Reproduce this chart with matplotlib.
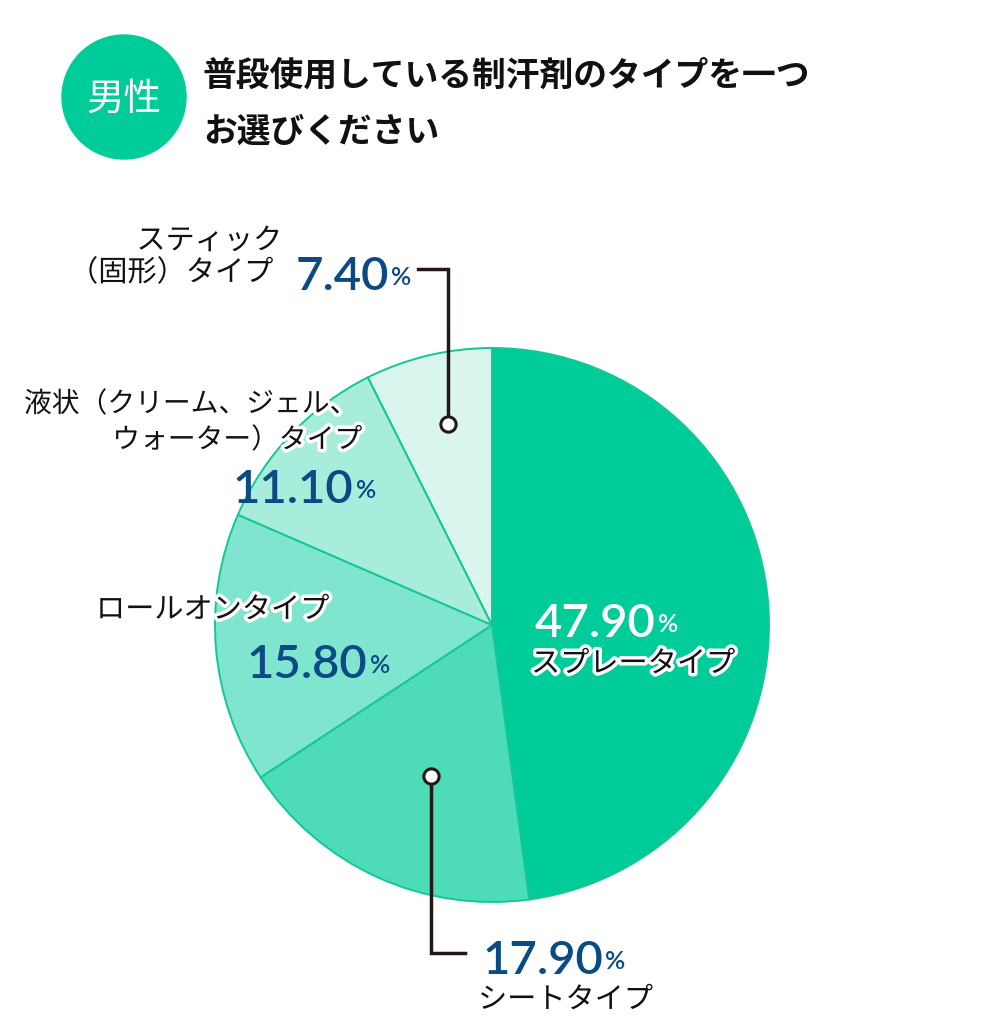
import matplotlib
matplotlib.use("Agg")
import matplotlib.pyplot as plt
import matplotlib.patheffects as pe
from matplotlib.patches import Circle

plt.rcParams['font.family'] = ['Noto Sans CJK JP', 'DejaVu Sans']

# ---- data ----
categories = ["スプレータイプ", "シートタイプ", "ロールオンタイプ",
              "液状（クリーム、ジェル、\nウォーター）タイプ", "スティック\n（固形）タイプ"]
values = [47.9, 17.9, 15.8, 11.1, 7.4]
value_labels = ["47.90", "17.90", "15.80", "11.10", "7.40"]
colors = ["#00CC99", "#4DDBB8", "#80E5CE", "#A8EDDC", "#DAF5EE"]
badge = "男性"
title_lines = ["普段使用している制汗剤のタイプを一つ", "お選びください"]

W, H = 1000, 1032
fig = plt.figure(figsize=(W / 100, H / 100), dpi=100)
ax = fig.add_axes([0, 0, 1, 1])

CX, CY, R = 492, 625, 277
ax.pie(values, colors=colors, startangle=-90, counterclock=True,
       center=(CX, CY), radius=R,
       wedgeprops=dict(edgecolor="#14C795", linewidth=1.4))
ax.set_xlim(0, W)
ax.set_ylim(H, 0)
ax.set_aspect('equal')
ax.axis('off')

jp = ['Noto Sans CJK JP', 'DejaVu Sans']
num_font = ['Lato', 'DejaVu Sans']
blue = "#0B4A84"
halo = [pe.withStroke(linewidth=5, foreground='white')]

# header badge
ax.add_patch(Circle((124, 97), 62, color="#00CC99", zorder=5))
ax.text(124, 99, badge, color='white', fontsize=27, family=jp,
        ha='center', va='center', zorder=6)
ax.text(203, 75, title_lines[0], fontsize=24.3, fontweight='bold', family=jp,
        ha='left', va='center', color='#111111')
ax.text(203, 131, title_lines[1], fontsize=24.3, fontweight='bold', family=jp,
        ha='left', va='center', color='#111111')


def number(x, y, s, color, ha='left'):
    t = ax.text(x, y, s, fontsize=34, family=num_font, fontweight='semibold',
                color=color, ha=ha, va='baseline', zorder=8)
    ax.annotate('%', xy=(1, 0), xycoords=t, xytext=(1.5, 6.5),
                textcoords='offset points', fontsize=18, family=num_font,
                fontweight='semibold', color=color, ha='left', va='bottom',
                zorder=8)
    return t


def label(x, y, s, ha='left', color='#111111', fx=halo, size=21):
    ax.text(x, y, s, fontsize=size, family=jp, color=color, ha=ha, va='center',
            path_effects=fx, zorder=9)

# spray
number(535, 637, value_labels[0], 'white')
label(531, 664, "スプレータイプ")

# sheet
ax.plot([431, 431, 465], [776, 953, 953], color='#231815', lw=2.5,
        solid_joinstyle='miter', zorder=7)
ax.plot([431], [776], marker='o', ms=11, mfc='white', mec='#231815',
        mew=2.2, zorder=8)
number(482, 974, value_labels[1], blue)
label(478, 1000, "シートタイプ")

# roll-on
label(96, 610, "ロールオンタイプ")
number(247, 678, value_labels[2], blue)

# liquid
label(357, 404, "液状（クリーム、ジェル、", ha='right', size=20)
label(362, 440, "ウォーター）タイプ", ha='right', size=20)
number(233, 503, value_labels[3], blue)

# stick
label(282, 241, "スティック", ha='right')
label(273, 273, "（固形）タイプ", ha='right')
number(296, 290, value_labels[4], blue)
ax.plot([418, 448, 448], [269, 269, 424], color='#231815', lw=2.5,
        solid_joinstyle='miter', zorder=7)
ax.plot([448], [424], marker='o', ms=11, mfc='white', mec='#231815',
        mew=2.2, zorder=8)

fig.savefig("out.png", dpi=100)
